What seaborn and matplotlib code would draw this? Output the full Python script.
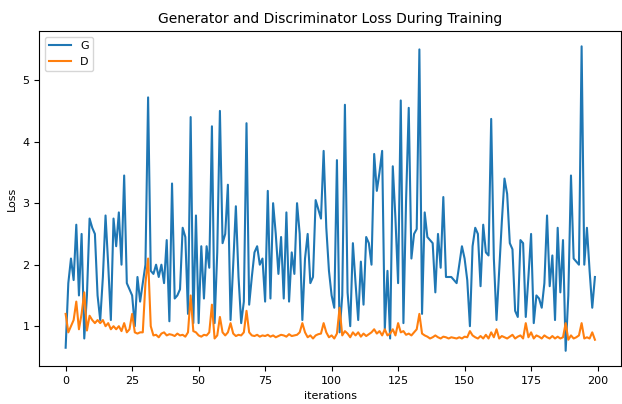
#%% IMPORTS
import numpy as np
import pandas as pd
import seaborn as sns
from matplotlib import pyplot as plt

#%% DATA
g_losses = [
    0.65, 1.7, 2.1, 1.75, 2.65, 1.5, 2.5, 0.8, 1.5, 2.75,
    2.6, 2.5, 1.5, 1.1, 1.8, 2.8, 2.0, 1.1, 2.75, 2.3,
    2.85, 2.0, 3.45, 1.7, 1.6, 1.5, 1.0, 1.8, 1.4, 1.7,
    2.0, 4.72, 1.9, 1.85, 2.0, 1.8, 2.0, 1.7, 2.4, 1.08,
    3.32, 1.45, 1.5, 1.6, 2.6, 2.45, 1.2, 4.4, 1.05, 2.8,
    1.05, 2.3, 1.45, 2.3, 1.95, 4.25, 1.05, 2.2, 4.5, 2.35,
    2.5, 3.3, 1.1, 2.0, 2.95, 1.8, 1.05, 1.4, 4.3, 1.35,
    1.8, 2.2, 2.3, 2.0, 2.1, 1.4, 3.2, 1.45, 3.0, 2.5,
    1.85, 2.45, 1.45, 2.85, 1.4, 2.2, 1.85, 3.0, 2.5, 1.1,
    2.1, 2.5, 1.7, 1.8, 3.05, 2.9, 2.75, 3.85, 2.6, 1.9,
    1.5, 1.3, 3.7, 0.9, 1.5, 4.6, 1.55, 1.0, 2.35, 1.7,
    1.1, 2.05, 1.35, 2.45, 2.35, 2.0, 3.8, 3.2, 3.5, 3.85,
    0.95, 1.9, 0.8, 3.6, 2.75, 1.7, 4.67, 1.05, 3.05, 4.55,
    2.1, 2.5, 2.58, 5.5, 1.2, 2.85, 2.45, 2.4, 2.35, 1.55,
    2.5, 1.95, 3.1, 1.8, 1.8, 1.8, 1.75, 1.7, 2.0, 2.3,
    2.1, 1.75, 1.0, 2.3, 2.6, 2.5, 1.65, 2.65, 2.2, 2.15,
    4.37, 2.1, 1.1, 1.9, 2.7, 3.4, 3.15, 2.35, 2.25, 1.25,
    1.15, 2.4, 2.35, 1.15, 1.8, 2.5, 1.05, 1.5, 1.45, 1.3,
    1.7, 2.8, 1.65, 2.15, 1.1, 2.6, 1.55, 2.4, 0.6, 1.5,
    3.45, 2.1, 2.05, 2.0, 5.55, 2.0, 2.6, 1.9, 1.3, 1.8,
]

d_losses = [
    1.2, 0.9, 1.0, 1.1, 1.4, 0.95, 1.2, 1.55, 0.93, 1.17,
    1.1, 1.05, 1.1, 1.05, 1.1, 1.0, 1.05, 0.95, 1.0, 0.95,
    1.0, 0.92, 1.05, 0.9, 0.95, 1.2, 0.9, 0.88, 0.9, 0.9,
    1.7, 2.1, 1.0, 0.85, 0.86, 0.82, 0.88, 0.9, 0.85, 0.87,
    0.86, 0.84, 0.88, 0.85, 0.86, 0.83, 0.9, 1.5, 0.92, 0.9,
    0.85, 0.83, 0.86, 0.85, 0.9, 1.35, 0.8, 0.85, 1.15, 0.9,
    0.85, 0.9, 1.05, 0.88, 0.84, 0.86, 0.85, 0.9, 1.25, 0.9,
    0.85, 0.84, 0.86, 0.83, 0.85, 0.84, 0.86, 0.83, 0.85, 0.82,
    0.84, 0.86, 0.85, 0.83, 0.87, 0.84, 0.85, 0.86, 0.9, 1.05,
    0.9, 0.82, 0.85, 0.8, 0.85, 0.87, 0.88, 1.05, 0.9, 0.82,
    0.85, 0.8, 0.88, 1.3, 0.85, 0.92, 0.88, 0.82, 0.9, 0.85,
    0.9, 0.83, 0.88, 0.84, 0.87, 0.9, 0.95, 0.88, 0.92, 0.85,
    0.95, 0.85, 0.88, 0.95, 0.85, 1.05, 0.9, 0.92, 0.86, 0.88,
    0.85, 0.9, 0.95, 1.2, 0.88, 0.85, 0.83, 0.8, 0.82, 0.85,
    0.82, 0.8, 0.83, 0.82, 0.8, 0.82, 0.81, 0.8, 0.82, 0.8,
    0.83, 0.82, 0.92, 0.85, 0.82, 0.8, 0.84, 0.8, 0.86, 0.8,
    0.9, 0.82, 0.95, 0.8, 0.84, 0.82, 0.8, 0.83, 0.86, 0.8,
    0.83, 0.85, 0.8, 1.05, 0.82, 0.9, 0.8, 0.85, 0.83, 0.8,
    0.85, 0.82, 0.8, 0.84, 0.8, 0.83, 0.8, 0.82, 1.05, 0.78,
    0.85, 0.8, 0.82, 0.85, 1.05, 0.8, 0.82, 0.8, 0.9, 0.78,
]

#%% PLOT
def main():
  iterations = np.arange(len(g_losses))
  lossDf = pd.DataFrame({'iterations': np.concatenate([iterations, iterations]),
                         'Loss': g_losses + d_losses,
                         'series': ['G'] * len(g_losses) + ['D'] * len(d_losses)})

  fig, ax = plt.subplots(figsize=(6.22, 4.04), dpi=100)
  sns.lineplot(data=lossDf, x='iterations', y='Loss', hue='series',
               palette={'G': '#1f77b4', 'D': '#ff7f0e'}, linewidth=1.5, ax=ax)
  ax.set_title('Generator and Discriminator Loss During Training', fontsize=10)
  ax.set_xlabel('iterations', fontsize=8)
  ax.set_ylabel('Loss', fontsize=8)
  ax.tick_params(labelsize=8)
  ax.legend(loc='upper left', fontsize=8)
  fig.subplots_adjust(left=0.063, right=0.999, top=0.923, bottom=0.094)
  fig.savefig('out.png', dpi=100)
#

if __name__ == "__main__":
  main()
